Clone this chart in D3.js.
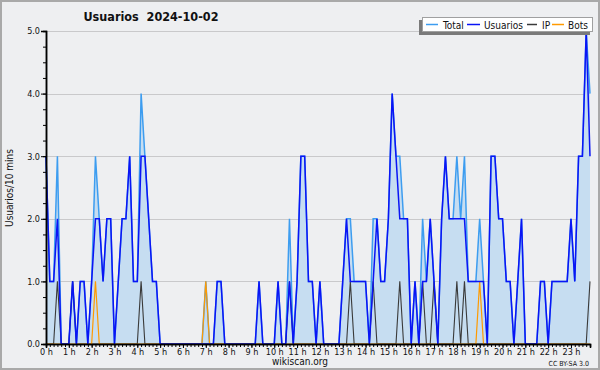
<!DOCTYPE html>
<html><head><meta charset="utf-8">
<script src="https://cdn.jsdelivr.net/npm/d3@7"></script>
<style>
html,body{margin:0;padding:0;background:#eeeff1;}
svg{display:block;}
text{font-family:"DejaVu Sans Condensed","DejaVu Sans",sans-serif;fill:#111;}
</style></head>
<body><svg id="c" width="600" height="370"></svg>
<script>
const title = "Usuarios  2024-10-02";
const yLabel = "Usuarios/10 mins";
const seriesNames = ["Total", "Usuarios", "IP", "Bots"];
const hourLabels = d3.range(24).map(h => h + " h");
const yTicks = [0, 1, 2, 3, 4, 5];

const usuarios = [
 3,1,1,2,0,0,0,1,0,1,
 1,0,1,2,2,1,2,2,0,1,
 2,2,3,1,1,3,3,2,1,1,
 0,0,0,0,0,0,0,0,0,0,
 0,0,0,0,0,1,1,0,0,0,
 0,0,0,0,0,0,1,0,0,0,
 0,1,0,0,1,0,1,3,3,1,
 1,0,1,0,0,0,0,0,1,2,
 1,1,1,1,1,0,1,2,1,1,
 2,4,3,2,2,2,0,1,0,1,
 1,2,1,0,2,3,2,2,2,2,
 2,1,1,1,1,1,0,3,3,2,
 2,1,1,0,1,2,0,0,0,0,
 1,1,0,1,1,1,1,1,2,1,
 3,3,5,3];
const total = [
 3,1,1,3,0,0,0,1,0,1,
 1,0,1,3,2,1,2,2,0,1,
 2,2,3,1,1,4,3,2,1,1,
 0,0,0,0,0,0,0,0,0,0,
 0,0,1,0,0,1,1,0,0,0,
 0,0,0,0,0,0,1,0,0,0,
 0,1,0,0,2,0,1,3,3,1,
 1,0,1,0,0,0,0,0,1,2,
 2,1,1,1,1,0,2,2,1,1,
 2,4,3,3,2,2,0,1,0,2,
 1,2,1,0,2,3,2,2,3,2,
 3,1,1,1,2,1,0,3,3,2,
 2,1,1,0,1,2,0,0,0,0,
 1,1,0,1,1,1,1,1,2,1,
 3,3,5,4];
const ip = [
 0,0,0,1,0,0,0,1,0,0,
 0,0,0,0,0,0,0,0,0,0,
 0,0,0,0,0,1,0,0,0,0,
 0,0,0,0,0,0,0,0,0,0,
 0,0,0,0,0,0,0,0,0,0,
 0,0,0,0,0,0,0,0,0,0,
 0,0,0,0,1,0,0,0,0,0,
 0,0,0,0,0,0,0,0,0,0,
 1,0,0,0,0,0,1,0,0,0,
 0,0,0,1,0,0,0,0,0,1,
 0,0,1,0,0,0,0,0,1,0,
 1,0,0,0,0,0,0,0,0,0,
 0,0,0,0,0,0,0,0,0,0,
 0,0,0,0,0,0,0,0,0,0,
 0,0,0,1];
const bots = [
 0,0,0,0,0,0,0,0,0,0,
 0,0,0,1,0,0,0,0,0,0,
 0,0,0,0,0,0,0,0,0,0,
 0,0,0,0,0,0,0,0,0,0,
 0,0,1,0,0,0,0,0,0,0,
 0,0,0,0,0,0,0,0,0,0,
 0,0,0,0,0,0,0,0,0,0,
 0,0,0,0,0,0,0,0,0,0,
 0,0,0,0,0,0,0,0,0,0,
 0,0,0,0,0,0,0,0,0,0,
 0,0,0,0,0,0,0,0,0,0,
 0,0,0,0,1,0,0,0,0,0,
 0,0,0,0,0,0,0,0,0,0,
 0,0,0,0,0,0,0,0,0,0,
 0,0,0,0];

const colors = {Total:"#3d9df0", Usuarios:"#0a14f5", IP:"#3a3a3a", Bots:"#ff9a00"};

const svg = d3.select("#c");
const W = 600, H = 370;
const L = 46, R = 590, T = 31, B = 344;
const x = d3.scaleLinear().domain([0, 143]).range([L, R]);
const y = d3.scaleLinear().domain([0, 5]).range([B, T]);

svg.append("rect").attr("x",0).attr("y",0).attr("width",W).attr("height",H).attr("fill","#eeeff1");
svg.append("rect").attr("x",1).attr("y",1).attr("width",W-2).attr("height",H-2)
  .attr("fill","none").attr("stroke","#a9a9a9").attr("stroke-width",2);

// grid
svg.append("g").selectAll("line").data(yTicks.filter(d=>d>0)).join("line")
  .attr("x1",L).attr("x2",R).attr("y1",d=>Math.round(y(d))+0.5).attr("y2",d=>Math.round(y(d))+0.5)
  .attr("stroke","#c9c9cb").attr("stroke-width",1);

// area
const area = d3.area().x((d,i)=>x(i)).y0(y(0)).y1(d=>y(d));
svg.append("path").datum(total).attr("d",area).attr("fill","#c6ddf1");

const line = d3.line().x((d,i)=>x(i)).y(d=>y(d));
svg.append("path").datum(total).attr("d",line).attr("fill","none").attr("stroke",colors.Total).attr("stroke-width",1.5);
svg.append("path").datum(ip).attr("d",line).attr("fill","none").attr("stroke",colors.IP).attr("stroke-width",1.1);
svg.append("path").datum(bots).attr("d",line).attr("fill","none").attr("stroke",colors.Bots).attr("stroke-width",1.2);
svg.append("path").datum(usuarios).attr("d",line).attr("fill","none").attr("stroke",colors.Usuarios).attr("stroke-width",1.5);

// x axis
const xMinor = d3.axisBottom(x).tickValues(d3.range(0,144)).tickSize(3).tickFormat("");
const gxm = svg.append("g").attr("transform",`translate(0,${B})`).call(xMinor);
const xMajor = d3.axisBottom(x).tickValues(d3.range(0,144,6)).tickSize(4).tickPadding(1)
  .tickFormat((d)=>hourLabels[d/6]);
const gx = svg.append("g").attr("transform",`translate(0,${B})`).call(xMajor);
[gxm,gx].forEach(g=>{g.select(".domain").attr("stroke","#000").attr("stroke-width",1.5);
  g.selectAll(".tick line").attr("stroke","#000");});
gx.selectAll("text").attr("font-size","9px").attr("fill","#111")
  .attr("font-family",'"DejaVu Sans Condensed","DejaVu Sans",sans-serif');

// y axis
const yMinor = d3.axisLeft(y).tickValues(d3.range(0,5.01,0.25)).tickSize(3).tickFormat("");
const gym = svg.append("g").attr("transform",`translate(${L},0)`).call(yMinor);
const yMajor = d3.axisLeft(y).tickValues(yTicks).tickSize(5).tickPadding(1).tickFormat(d3.format(".1f"));
const gy = svg.append("g").attr("transform",`translate(${L},0)`).call(yMajor);
[gym,gy].forEach(g=>{g.select(".domain").attr("stroke","#000").attr("stroke-width",1.5);
  g.selectAll(".tick line").attr("stroke","#000");});
gy.selectAll("text").attr("font-size","9px").attr("fill","#222")
  .attr("font-family",'"DejaVu Sans Condensed","DejaVu Sans",sans-serif');

// titles
svg.append("text").attr("x",151).attr("y",21).attr("text-anchor","middle")
  .style("white-space","pre")
  .attr("font-size","12.5px").attr("font-weight","bold").text(title);
svg.append("text").attr("transform","translate(13,188) rotate(-90)").attr("text-anchor","middle")
  .attr("font-family",'"DejaVu Sans Mono",monospace').attr("font-size","10px").text(yLabel);
svg.append("text").attr("x",300).attr("y",365).attr("text-anchor","middle")
  .attr("font-size","10px").attr("fill","#333").text("wikiscan.org");
svg.append("text").attr("x",589).attr("y",366).attr("text-anchor","end")
  .attr("font-size","7px").attr("fill","#444").text("CC BY-SA 3.0");

// legend
const lg = svg.append("g");
lg.append("rect").attr("x",419).attr("y",20).attr("width",171).attr("height",15).attr("fill","#7a7a7a");
lg.append("rect").attr("x",422.5).attr("y",17.5).attr("width",170).attr("height",14).attr("fill","#fff").attr("stroke","#a0a0a0");
const items = [
  {n:"Total", sx:426, sw:12, tx:443},
  {n:"Usuarios", sx:467, sw:13, tx:484},
  {n:"IP", sx:527, sw:10, tx:542},
  {n:"Bots", sx:552, sw:12, tx:568}];
items.forEach(it=>{
  lg.append("line").attr("x1",it.sx).attr("x2",it.sx+it.sw).attr("y1",24.5).attr("y2",24.5)
    .attr("stroke",colors[it.n]).attr("stroke-width",1.5);
  lg.append("text").attr("x",it.tx).attr("y",28.5).attr("font-size","10px").attr("fill","#222").text(it.n);
});
</script></body></html>
